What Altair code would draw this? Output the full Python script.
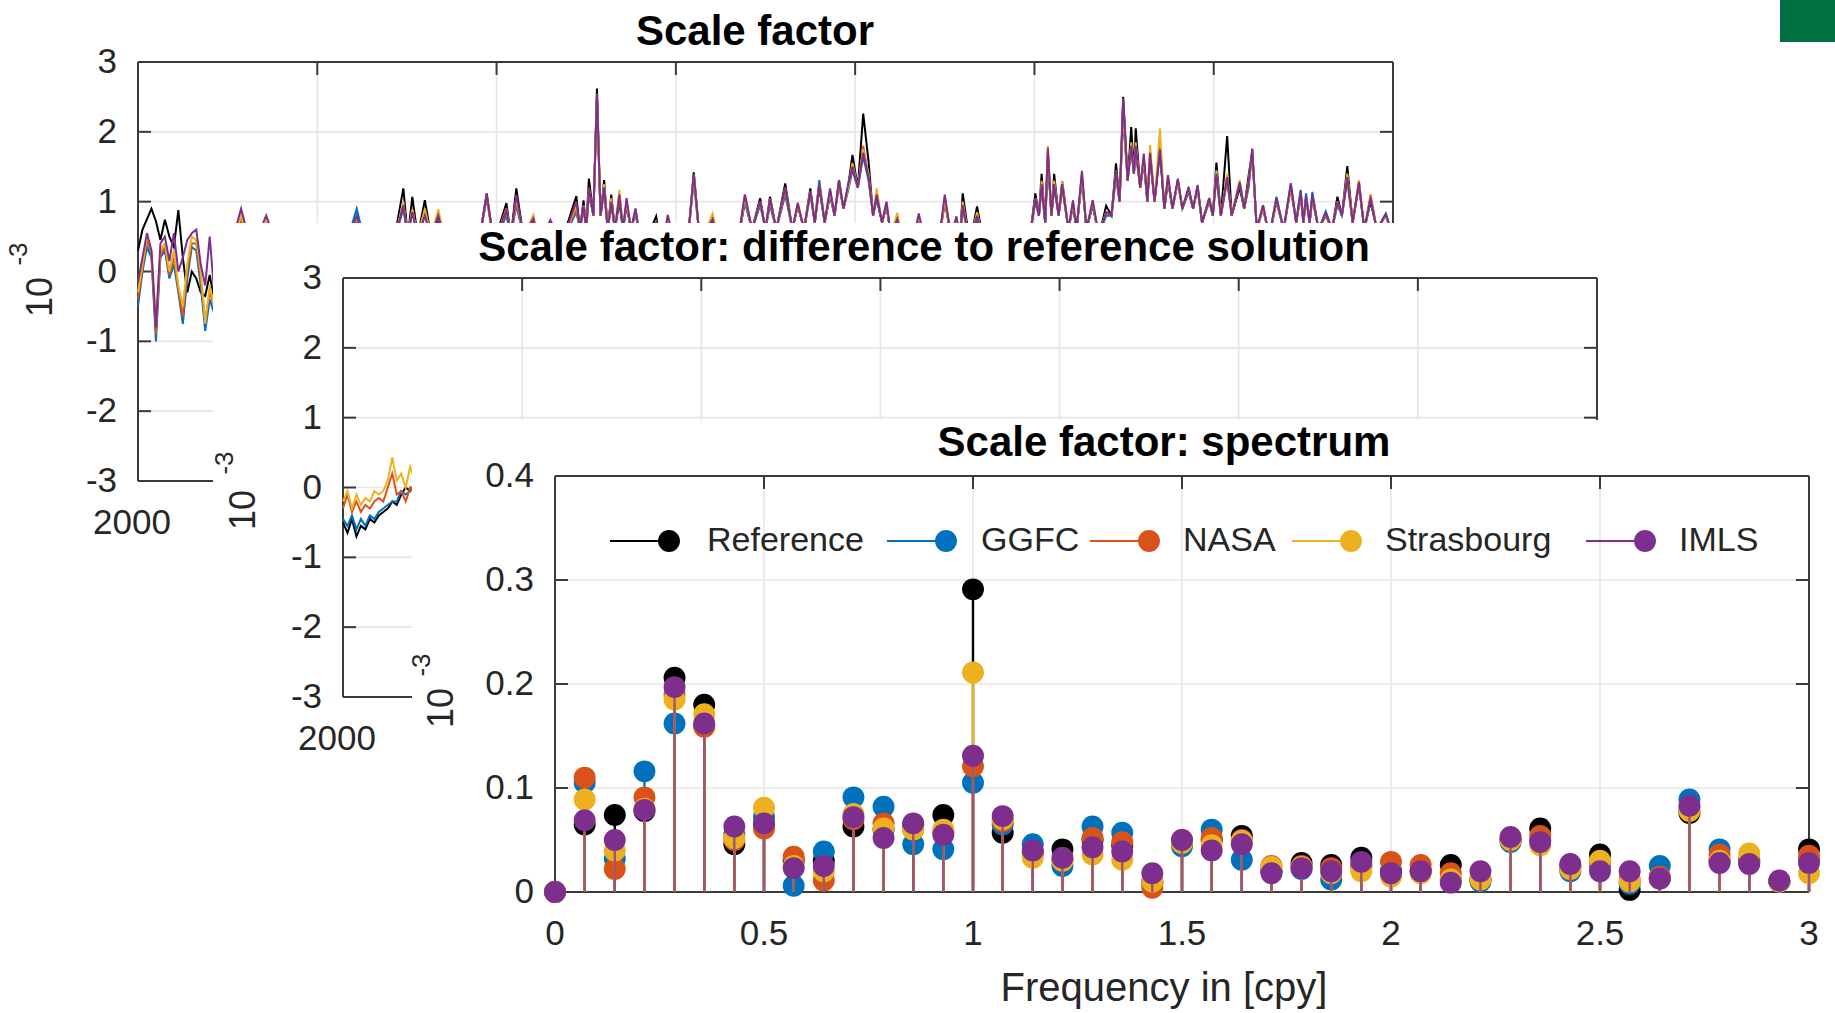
import altair as alt
import pandas as pd

# ------------------------------------------------------------------ data
SERIES = ["Reference", "GGFC", "NASA", "Strasbourg", "IMLS"]
COLORS = ["#000000", "#0072BD", "#D95319", "#EDB120", "#7E2F8E"]

# Panel 1: scale factor time series (10^-3)
t1 = (
    [2000.00, 2000.05, 2000.10, 2000.15, 2000.20, 2000.25, 2000.30, 2000.35, 2000.40,
     2000.45, 2000.50, 2000.55, 2000.60, 2000.65, 2000.70, 2000.75, 2000.80, 2000.85]
    + [2001.00, 2001.15, 2001.27, 2001.43, 2001.60, 2002.30, 2002.44, 2002.55, 2002.85,
       2002.96, 2003.01, 2003.06, 2003.12, 2003.20, 2003.27, 2003.35, 2003.45]
    + [2003.80, 2003.89, 2003.97, 2004.11, 2004.16, 2004.22, 2004.30, 2004.41, 2004.48,
       2004.60, 2004.72]
    + [2004.89, 2004.93, 2004.97, 2005.00, 2005.03, 2005.08, 2005.12, 2005.16, 2005.20,
       2005.24, 2005.28, 2005.32, 2005.37, 2005.41, 2005.45, 2005.50, 2005.55, 2005.62,
       2005.78, 2005.84, 2005.91, 2006.00]
    + [2006.13, 2006.20, 2006.27, 2006.41, 2006.50, 2006.70, 2006.77, 2006.85, 2006.94,
       2007.00, 2007.05, 2007.12, 2007.22, 2007.30, 2007.36, 2007.43, 2007.50, 2007.55,
       2007.60, 2007.66, 2007.72, 2007.77, 2007.82, 2007.87, 2007.92, 2007.97, 2008.03,
       2008.09, 2008.15, 2008.20, 2008.24, 2008.30, 2008.35, 2008.40, 2008.47, 2008.55]
    + [2008.64, 2008.71, 2008.80, 2008.93, 2009.00, 2009.07, 2009.13, 2009.17, 2009.20,
       2009.28, 2009.36, 2009.45]
    + [2009.95, 2010.01, 2010.05, 2010.08, 2010.12, 2010.15, 2010.19, 2010.22, 2010.27,
       2010.31, 2010.38, 2010.43, 2010.47, 2010.53, 2010.58, 2010.65, 2010.72, 2010.80,
       2010.86, 2010.91, 2010.95, 2010.99, 2011.04, 2011.08, 2011.11, 2011.13, 2011.18,
       2011.22, 2011.26, 2011.29, 2011.34, 2011.40, 2011.45, 2011.49, 2011.54, 2011.60,
       2011.65, 2011.72, 2011.77, 2011.82, 2011.87, 2011.95, 2011.99]
    + [2012.03, 2012.08, 2012.15, 2012.20, 2012.29, 2012.34, 2012.39, 2012.43, 2012.48,
       2012.55, 2012.62, 2012.70, 2012.78, 2012.86, 2012.92, 2012.97, 2013.00, 2013.03,
       2013.07, 2013.10, 2013.17, 2013.25, 2013.32, 2013.38, 2013.43, 2013.49, 2013.55,
       2013.62, 2013.68, 2013.75, 2013.82, 2013.92, 2014.00]
)

sf_ref = (
    [0.30, 0.60, 0.75, 0.90, 0.72, 0.45, 0.74, 0.50, 0.35, 0.88, 0.20, -0.30, 0.00, -0.10, -0.30, -0.35, -0.05, -0.40]
    + [0.20, 0.75, 0.30, 0.70, 0.20, 0.30, 0.75, 0.30, 0.40, 1.19, 0.50, 1.07, 0.50, 1.02, 0.50, 0.75, 0.30]
    + [0.40, 1.12, 0.40, 0.98, 0.50, 1.19, 0.50, 0.70, 0.40, 0.65, 0.40]
    + [1.08, 0.60, 1.02, 0.60, 1.33, 0.80, 2.62, 0.80, 1.31, 0.60, 1.10, 0.60, 1.00, 0.60, 0.95, 0.60, 0.85, 0.30, 0.79, 0.30, 0.70, 0.30]
    + [0.40, 1.42, 0.40, 0.70, 0.30, 0.50, 1.00, 0.60, 1.05, 0.60, 1.07, 0.60, 1.26, 0.60, 0.95, 0.60, 1.19, 0.70, 1.20, 0.70, 1.10, 0.80, 1.31, 0.90, 1.20, 1.67, 1.20, 2.26, 1.57, 0.80, 1.05, 0.70, 0.95, 0.50, 0.70, 0.30]
    + [0.40, 0.75, 0.30, 0.40, 1.00, 0.50, 0.75, 0.50, 1.12, 0.40, 0.93, 0.30]
    + [0.50, 1.12, 0.80, 1.40, 0.70, 1.60, 0.80, 1.40, 0.80, 1.29, 0.60, 0.95, 0.60, 1.35, 0.60, 0.95, 0.50, 0.94, 0.80, 1.55, 1.00, 2.50, 1.30, 2.07, 1.40, 2.05, 1.20, 1.60, 1.00, 1.70, 1.00, 1.75, 0.90, 1.30, 0.90, 1.30, 0.90, 1.15, 0.90, 1.20, 0.70, 1.05, 0.80]
    + [1.56, 0.80, 1.94, 0.80, 1.20, 0.90, 1.38, 1.70, 0.60, 0.90, 0.50, 1.00, 0.60, 1.20, 0.70, 1.10, 0.70, 1.05, 0.70, 1.05, 0.60, 0.80, 0.60, 1.07, 0.80, 1.51, 0.70, 1.25, 0.60, 1.00, 0.60, 0.80, 0.50]
)
sf_ggfc = (
    [-0.50, 0.00, 0.35, 0.20, -1.00, 0.20, 0.30, -0.10, 0.10, -0.30, -0.75, -0.10, 0.35, 0.30, -0.20, -0.85, -0.40, -0.60]
    + [0.20, 0.70, 0.30, 0.65, 0.20, 0.30, 0.90, 0.30, 0.40, 0.90, 0.50, 0.85, 0.50, 0.80, 0.50, 0.70, 0.30]
    + [0.40, 1.05, 0.40, 0.80, 0.50, 0.95, 0.50, 0.70, 0.40, 0.68, 0.40]
    + [0.85, 0.60, 0.90, 0.60, 1.10, 0.80, 2.50, 0.80, 1.15, 0.60, 0.95, 0.60, 1.05, 0.60, 0.95, 0.60, 0.85, 0.30, 0.65, 0.30, 0.70, 0.30]
    + [0.40, 1.30, 0.40, 0.72, 0.30, 0.50, 1.00, 0.60, 0.95, 0.60, 0.95, 0.60, 1.10, 0.60, 0.95, 0.60, 1.10, 0.70, 1.31, 0.70, 1.10, 0.80, 1.25, 0.90, 1.15, 1.45, 1.20, 1.65, 1.30, 0.80, 1.05, 0.70, 0.95, 0.50, 0.70, 0.30]
    + [0.40, 0.75, 0.30, 0.40, 1.05, 0.50, 0.70, 0.50, 0.90, 0.40, 0.75, 0.30]
    + [0.50, 1.00, 0.80, 1.20, 0.70, 1.65, 0.80, 1.20, 0.80, 1.20, 0.60, 0.95, 0.60, 1.35, 0.60, 0.95, 0.50, 0.80, 0.80, 1.35, 1.00, 2.20, 1.30, 1.75, 1.40, 1.70, 1.20, 1.55, 1.00, 1.60, 1.00, 1.70, 0.90, 1.30, 0.90, 1.28, 0.90, 1.15, 0.90, 1.20, 0.70, 1.00, 0.80]
    + [1.35, 0.80, 1.30, 0.80, 1.25, 0.90, 1.20, 1.75, 0.60, 0.95, 0.50, 1.07, 0.60, 1.26, 0.70, 1.17, 0.70, 1.12, 0.70, 1.14, 0.60, 0.86, 0.60, 0.95, 0.80, 1.30, 0.70, 1.25, 0.60, 1.05, 0.60, 0.83, 0.50]
)
sf_nasa = (
    [-0.40, 0.05, 0.45, 0.25, -0.90, 0.25, 0.35, -0.05, 0.20, -0.25, -0.65, 0.00, 0.40, 0.40, -0.10, -0.70, -0.30, -0.50]
    + [0.20, 0.75, 0.30, 0.70, 0.20, 0.30, 0.75, 0.30, 0.40, 0.95, 0.50, 0.90, 0.50, 0.85, 0.50, 0.80, 0.30]
    + [0.40, 1.08, 0.40, 0.85, 0.50, 1.00, 0.50, 0.75, 0.40, 0.70, 0.40]
    + [0.90, 0.60, 0.95, 0.60, 1.15, 0.80, 2.50, 0.80, 1.20, 0.60, 1.00, 0.60, 1.10, 0.60, 1.00, 0.60, 0.90, 0.30, 0.68, 0.30, 0.72, 0.30]
    + [0.40, 1.35, 0.40, 0.75, 0.30, 0.50, 1.10, 0.60, 1.00, 0.60, 1.00, 0.60, 1.15, 0.60, 0.95, 0.60, 1.15, 0.70, 1.25, 0.70, 1.15, 0.80, 1.25, 0.90, 1.20, 1.50, 1.20, 1.80, 1.35, 0.80, 1.10, 0.70, 0.95, 0.50, 0.75, 0.30]
    + [0.40, 0.78, 0.30, 0.40, 1.00, 0.50, 0.72, 0.50, 0.95, 0.40, 0.80, 0.30]
    + [0.50, 1.05, 0.80, 1.25, 0.70, 1.79, 0.80, 1.25, 0.80, 1.20, 0.60, 0.98, 0.60, 1.40, 0.60, 0.98, 0.50, 0.85, 0.80, 1.40, 1.00, 2.30, 1.30, 1.80, 1.40, 1.75, 1.20, 1.60, 1.00, 1.65, 1.00, 1.80, 0.90, 1.35, 0.90, 1.30, 0.90, 1.18, 0.90, 1.22, 0.70, 1.02, 0.80]
    + [1.40, 0.80, 1.35, 0.80, 1.28, 0.90, 1.25, 1.70, 0.60, 0.92, 0.50, 1.02, 0.60, 1.22, 0.70, 1.12, 0.70, 1.05, 0.70, 1.05, 0.60, 0.82, 0.60, 1.00, 0.80, 1.35, 0.70, 1.28, 0.60, 1.10, 0.60, 0.80, 0.50]
)
sf_stras = (
    [-0.30, 0.10, 0.50, 0.30, -0.70, 0.30, 0.40, 0.00, 0.30, -0.20, -0.50, 0.10, 0.50, 0.45, 0.00, -0.75, -0.20, -0.50]
    + [0.20, 0.80, 0.30, 0.72, 0.20, 0.30, 0.78, 0.30, 0.40, 1.00, 0.50, 0.88, 0.50, 0.90, 0.50, 0.89, 0.30]
    + [0.40, 1.10, 0.40, 0.90, 0.50, 1.05, 0.50, 0.81, 0.40, 0.70, 0.40]
    + [0.95, 0.60, 0.95, 0.60, 1.20, 0.80, 2.52, 0.80, 1.25, 0.60, 1.05, 0.60, 1.17, 0.60, 1.00, 0.60, 0.90, 0.30, 0.70, 0.30, 0.75, 0.30]
    + [0.40, 1.38, 0.40, 0.83, 0.30, 0.50, 1.05, 0.60, 1.00, 0.60, 1.05, 0.60, 1.20, 0.60, 0.98, 0.60, 1.15, 0.70, 1.25, 0.70, 1.15, 0.80, 1.30, 0.90, 1.20, 1.55, 1.20, 1.75, 1.40, 0.80, 1.19, 0.70, 1.00, 0.50, 0.84, 0.30]
    + [0.40, 0.80, 0.30, 0.40, 1.05, 0.50, 0.75, 0.50, 1.00, 0.40, 0.85, 0.30]
    + [0.50, 1.05, 0.80, 1.30, 0.70, 1.70, 0.80, 1.30, 0.80, 1.29, 0.60, 1.00, 0.60, 1.40, 0.60, 1.00, 0.50, 0.85, 0.80, 1.45, 1.00, 2.35, 1.30, 1.85, 1.40, 1.85, 1.20, 1.65, 1.00, 1.81, 1.00, 2.05, 0.90, 1.35, 0.90, 1.30, 0.90, 1.20, 0.90, 1.22, 0.70, 1.05, 0.80]
    + [1.45, 0.80, 1.40, 0.80, 1.31, 0.90, 1.30, 1.72, 0.60, 0.92, 0.50, 1.02, 0.60, 1.22, 0.70, 1.12, 0.70, 1.05, 0.70, 1.08, 0.60, 0.82, 0.60, 1.00, 0.80, 1.40, 0.70, 1.31, 0.60, 1.05, 0.60, 0.80, 0.50]
)
sf_imls = (
    [-0.15, 0.20, 0.55, 0.30, -0.80, 0.40, 0.50, 0.15, 0.55, 0.00, 0.20, 0.45, 0.55, 0.60, 0.10, -0.20, 0.50, -0.30]
    + [0.20, 0.90, 0.30, 0.80, 0.20, 0.30, 0.80, 0.30, 0.40, 0.95, 0.50, 0.85, 0.50, 0.80, 0.50, 0.80, 0.30]
    + [0.40, 1.11, 0.40, 0.88, 0.50, 1.10, 0.50, 0.76, 0.40, 0.74, 0.40]
    + [1.00, 0.60, 0.95, 0.60, 1.20, 0.80, 2.55, 0.80, 1.20, 0.60, 1.00, 0.60, 1.10, 0.60, 1.05, 0.60, 0.90, 0.30, 0.70, 0.30, 0.81, 0.30]
    + [0.40, 1.40, 0.40, 0.75, 0.30, 0.50, 1.10, 0.60, 1.00, 0.60, 1.05, 0.60, 1.20, 0.60, 0.98, 0.60, 1.15, 0.70, 1.25, 0.70, 1.19, 0.80, 1.30, 0.90, 1.24, 1.50, 1.20, 1.70, 1.35, 0.80, 1.10, 0.70, 1.00, 0.50, 0.75, 0.30]
    + [0.40, 0.83, 0.30, 0.40, 1.10, 0.50, 0.79, 0.50, 0.95, 0.40, 0.80, 0.30]
    + [0.50, 1.05, 0.80, 1.25, 0.70, 1.75, 0.80, 1.25, 0.80, 1.25, 0.60, 1.02, 0.60, 1.44, 0.60, 1.02, 0.50, 0.85, 0.80, 1.45, 1.00, 2.48, 1.30, 1.80, 1.40, 1.80, 1.20, 1.69, 1.00, 1.70, 1.00, 1.75, 0.90, 1.38, 0.90, 1.33, 0.90, 1.21, 0.90, 1.24, 0.70, 1.05, 0.80]
    + [1.40, 0.80, 1.35, 0.80, 1.28, 0.90, 1.28, 1.76, 0.60, 0.95, 0.50, 1.05, 0.60, 1.26, 0.70, 1.15, 0.70, 1.08, 0.70, 1.10, 0.60, 0.84, 0.60, 1.00, 0.80, 1.35, 0.70, 1.28, 0.60, 1.05, 0.60, 0.82, 0.50]
)

# Panel 2: difference to reference solution (10^-3), visible start only
t2 = [2000.00, 2000.05, 2000.10, 2000.15, 2000.20, 2000.25, 2000.30, 2000.35, 2000.40, 2000.45,
      2000.50, 2000.55, 2000.60, 2000.65, 2000.70, 2000.75, 2000.80, 2000.85, 2000.90, 2000.95, 2001.00]
d_ref = [-0.50, -0.65, -0.45, -0.70, -0.55, -0.60, -0.45, -0.50, -0.40, -0.35, -0.30, -0.20, -0.25, -0.10, 0.00, -0.05, 0.05, 0.00, -0.10, 0.00, 0.05]
d_ggfc = [-0.45, -0.55, -0.40, -0.60, -0.45, -0.55, -0.40, -0.45, -0.35, -0.30, -0.25, -0.20, -0.20, -0.05, -0.10, -0.05, 0.00, 0.05, -0.05, 0.00, 0.00]
d_nasa = [-0.30, -0.10, -0.35, -0.20, -0.35, -0.25, -0.30, -0.20, -0.15, -0.20, 0.00, 0.20, -0.10, -0.05, -0.20, 0.00, -0.10, 0.05, 0.00, 0.05, 0.00]
d_stras = [-0.20, -0.05, -0.30, -0.10, -0.25, -0.15, -0.20, -0.05, -0.10, -0.05, 0.10, 0.43, 0.10, 0.20, 0.00, 0.30, 0.10, 0.20, 0.10, 0.15, 0.10]

# Panel 3: spectrum (amplitude, 10^-3) at frequencies in cpy
freq = [0.000, 0.071, 0.143, 0.214, 0.286, 0.357, 0.429, 0.500, 0.571, 0.643, 0.714,
        0.786, 0.857, 0.929, 1.000, 1.071, 1.143, 1.214, 1.286, 1.357, 1.429, 1.500,
        1.571, 1.643, 1.714, 1.786, 1.857, 1.929, 2.000, 2.071, 2.143, 2.214, 2.286,
        2.357, 2.429, 2.500, 2.571, 2.643, 2.714, 2.786, 2.857, 2.929, 3.000]
sp_ref = [0, 0.065, 0.074, 0.078, 0.206, 0.180, 0.046, 0.065, 0.030, 0.030, 0.063, 0.060, 0.065, 0.074, 0.291,
          0.057, 0.038, 0.041, 0.050, 0.045, 0.010, 0.048, 0.050, 0.054, 0.020, 0.028, 0.026, 0.033, 0.020,
          0.020, 0.026, 0.012, 0.050, 0.061, 0.025, 0.036, 0.002, 0.013, 0.076, 0.030, 0.030, 0.010, 0.041]
sp_ggfc = [0, 0.105, 0.032, 0.116, 0.162, 0.160, 0.055, 0.072, 0.006, 0.039, 0.091, 0.082, 0.046, 0.041, 0.105,
           0.065, 0.046, 0.025, 0.063, 0.057, 0.008, 0.044, 0.060, 0.031, 0.020, 0.022, 0.012, 0.025, 0.020,
           0.020, 0.012, 0.010, 0.048, 0.050, 0.020, 0.025, 0.008, 0.025, 0.089, 0.041, 0.028, 0.010, 0.030]
sp_nasa = [0, 0.110, 0.022, 0.091, 0.190, 0.159, 0.050, 0.061, 0.034, 0.011, 0.070, 0.066, 0.060, 0.058, 0.121,
           0.068, 0.038, 0.030, 0.052, 0.048, 0.004, 0.050, 0.052, 0.050, 0.025, 0.025, 0.023, 0.025, 0.029,
           0.026, 0.018, 0.012, 0.050, 0.054, 0.022, 0.028, 0.012, 0.015, 0.080, 0.036, 0.030, 0.010, 0.035]
sp_stras = [0, 0.089, 0.040, 0.080, 0.185, 0.171, 0.052, 0.081, 0.025, 0.020, 0.075, 0.061, 0.060, 0.060, 0.211,
            0.070, 0.033, 0.030, 0.036, 0.031, 0.010, 0.047, 0.045, 0.049, 0.024, 0.024, 0.018, 0.020, 0.015,
            0.018, 0.012, 0.012, 0.050, 0.045, 0.022, 0.030, 0.010, 0.013, 0.078, 0.030, 0.037, 0.010, 0.018]
sp_imls = [0, 0.069, 0.050, 0.079, 0.197, 0.162, 0.063, 0.066, 0.023, 0.025, 0.072, 0.052, 0.066, 0.055, 0.131,
           0.073, 0.040, 0.033, 0.043, 0.039, 0.018, 0.050, 0.040, 0.046, 0.018, 0.023, 0.020, 0.029, 0.018,
           0.020, 0.009, 0.020, 0.053, 0.048, 0.027, 0.020, 0.020, 0.013, 0.083, 0.028, 0.027, 0.011, 0.028]

# Tick values and labels
year_ticks = [2000, 2002, 2004, 2006, 2008, 2010, 2012, 2014]
year_labels = ["2000"]          # the only year label not covered by the figures in front
sf_ticks = [-3, -2, -1, 0, 1, 2, 3]
sf_labels = ["-3", "-2", "-1", "0", "1", "2", "3"]
freq_ticks = [0, 0.5, 1, 1.5, 2, 2.5, 3]
freq_labels = ["0", "0.5", "1", "1.5", "2", "2.5", "3"]
amp_ticks = [0, 0.1, 0.2, 0.3, 0.4]
amp_labels = ["0", "0.1", "0.2", "0.3", "0.4"]

for s in (sf_ref, sf_ggfc, sf_nasa, sf_stras, sf_imls):
    assert len(s) == len(t1), (len(s), len(t1))
for s in (sp_ref, sp_ggfc, sp_nasa, sp_stras, sp_imls):
    assert len(s) == len(freq)

# ------------------------------------------------------------------ layout
W, H = 1835, 1013
FONT = "Liberation Sans"
AX = "#3a3a3a"
TXT = "#262626"
GRID = "#e6e6e6"
ONE = pd.DataFrame({"a": [0]})
TL = 13  # tick length

P1 = dict(x0=138, x1=1393, yt=62, yb=481, xdom=[2000, 2014], ydom=[-3, 3])
P2 = dict(x0=343, x1=1597, yt=278, yb=697, xdom=[2000, 2014], ydom=[-3, 3])
P3 = dict(x0=555, x1=1809, yt=476, yb=892, xdom=[0, 3], ydom=[0, 0.4])


def scx(p):
    return alt.Scale(domain=p["xdom"], range=[p["x0"], p["x1"]], nice=False, zero=False)


def scy(p):
    return alt.Scale(domain=p["ydom"], range=[p["yb"], p["yt"]], nice=False, zero=False)


def X(p, f="v"):
    return alt.X(f"{f}:Q", scale=scx(p), axis=None)


def Y(p, f="v"):
    return alt.Y(f"{f}:Q", scale=scy(p), axis=None)


def rect(x, x2, y, y2, color):
    return alt.Chart(ONE).mark_rect(color=color).encode(
        x=alt.value(x), x2=alt.value(x2), y=alt.value(y), y2=alt.value(y2))


def frame_back(p, xt, yt):
    xdf = pd.DataFrame({"v": xt})
    ydf = pd.DataFrame({"v": yt})
    L = []
    L.append(alt.Chart(xdf).mark_rule(color=GRID, strokeWidth=1.6).encode(
        x=X(p), y=alt.value(p["yt"]), y2=alt.value(p["yb"])))
    L.append(alt.Chart(ydf).mark_rule(color=GRID, strokeWidth=1.6).encode(
        y=Y(p), x=alt.value(p["x0"]), x2=alt.value(p["x1"])))
    box = alt.Chart(ONE).mark_rule(color=AX, strokeWidth=2)
    L.append(box.encode(x=alt.value(p["x0"]), x2=alt.value(p["x1"]), y=alt.value(p["yt"])))
    L.append(box.encode(x=alt.value(p["x0"]), x2=alt.value(p["x1"]), y=alt.value(p["yb"])))
    L.append(box.encode(x=alt.value(p["x0"]), y=alt.value(p["yt"]), y2=alt.value(p["yb"])))
    L.append(box.encode(x=alt.value(p["x1"]), y=alt.value(p["yt"]), y2=alt.value(p["yb"])))
    tk = lambda d: alt.Chart(d).mark_rule(color=AX, strokeWidth=2)
    L.append(tk(ydf).encode(y=Y(p), x=alt.value(p["x0"]), x2=alt.value(p["x0"] + TL)))
    L.append(tk(ydf).encode(y=Y(p), x=alt.value(p["x1"] - TL), x2=alt.value(p["x1"])))
    L.append(tk(xdf).encode(x=X(p), y=alt.value(p["yb"] - TL), y2=alt.value(p["yb"])))
    L.append(tk(xdf).encode(x=X(p), y=alt.value(p["yt"]), y2=alt.value(p["yt"] + TL)))
    return L


def frame_labels(p, xt, xl, yt, yl, xdx=0):
    xdf = pd.DataFrame({"v": xt[:len(xl)], "lab": xl})
    ydf = pd.DataFrame({"v": yt, "lab": yl})
    return [
        alt.Chart(ydf).mark_text(font=FONT, fontSize=35, align="right", baseline="middle", color=TXT).encode(
            y=Y(p), x=alt.value(p["x0"] - 21), text="lab:N"),
        alt.Chart(xdf).mark_text(font=FONT, fontSize=35, align="center", baseline="middle", color=TXT, dx=xdx).encode(
            x=X(p), y=alt.value(p["yb"] + 42), text="lab:N"),
    ]


def text(s, x, y, size, bold=False, angle=0, align="center", baseline="middle"):
    kw = dict(text=s, font=FONT, fontSize=size, color="#000000" if bold else TXT,
              align=align, baseline=baseline, fontWeight="bold" if bold else "normal")
    if angle:
        kw["angle"] = angle
    return alt.Chart(ONE).mark_text(**kw).encode(x=alt.value(x), y=alt.value(y))


def exp_label(cx, cy, sx, sy):
    return [text("10", cx, cy, 36, angle=270), text("-3", sx, sy, 26, angle=270)]


layers = []

# ---------------- figure 1: Scale factor
layers += frame_back(P1, year_ticks, sf_ticks)
for name, col, vals in zip(SERIES, COLORS, [sf_ref, sf_ggfc, sf_nasa, sf_stras, sf_imls]):
    df = pd.DataFrame({"t": t1, "v": vals})
    layers.append(alt.Chart(df).mark_line(color=col, strokeWidth=2).encode(x=X(P1, "t"), y=Y(P1)))
layers += frame_labels(P1, year_ticks, year_labels, sf_ticks, sf_labels, xdx=-6)
layers.append(text("Scale factor", 755, 45, 42, bold=True, baseline="alphabetic"))
layers += exp_label(41, 297, 19, 254)

# ---------------- figure 2: difference to reference
layers.append(rect(213, W, 223, H, "#ffffff"))
layers += frame_back(P2, year_ticks, sf_ticks)
for name, col, vals in zip(SERIES[:4], COLORS[:4], [d_ref, d_ggfc, d_nasa, d_stras]):
    df = pd.DataFrame({"t": t2, "v": vals})
    layers.append(alt.Chart(df).mark_line(color=col, strokeWidth=2).encode(x=X(P2, "t"), y=Y(P2)))
layers += frame_labels(P2, year_ticks, year_labels, sf_ticks, sf_labels, xdx=-6)
layers.append(text("Scale factor: difference to reference solution", 924, 261, 42, bold=True, baseline="alphabetic"))
layers += exp_label(244, 510, 225, 463)

# ---------------- figure 3: spectrum
layers.append(rect(412, W, 420, H, "#ffffff"))
layers += frame_back(P3, freq_ticks, amp_ticks)
for i, (name, col, vals) in enumerate(zip(SERIES, COLORS, [sp_ref, sp_ggfc, sp_nasa, sp_stras, sp_imls])):
    df = pd.DataFrame({"f": freq, "v": vals, "b": [0.0] * len(freq)})
    op = 0.7 if name == "IMLS" else 1.0
    layers.append(alt.Chart(df).mark_rule(color=col, strokeWidth=2.4, opacity=op).encode(
        x=X(P3, "f"), y=Y(P3), y2=alt.Y2("b:Q")))
    layers.append(alt.Chart(df).mark_circle(color=col, size=480, opacity=1).encode(
        x=X(P3, "f"), y=Y(P3)))

# legend (inside the plot, no box)
LEG_Y = 541
LEG_MARK_X = [669, 946, 1149, 1351, 1645]
LEG_TEXT_X = [707, 981, 1183, 1385, 1679]
for name, col, mx, tx in zip(SERIES, COLORS, LEG_MARK_X, LEG_TEXT_X):
    layers.append(alt.Chart(ONE).mark_rule(color=col, strokeWidth=2).encode(
        x=alt.value(mx - 59), x2=alt.value(mx), y=alt.value(LEG_Y)))
    layers.append(alt.Chart(ONE).mark_circle(color=col, size=480, opacity=1).encode(
        x=alt.value(mx), y=alt.value(LEG_Y)))
    layers.append(text(name, tx, LEG_Y, 34, align="left"))

layers += frame_labels(P3, freq_ticks, freq_labels, amp_ticks, amp_labels)
layers.append(text("Scale factor: spectrum", 1164, 456, 42, bold=True, baseline="alphabetic"))
layers.append(text("Frequency in [cpy]", 1164, 989, 40))
layers += exp_label(442, 708, 422, 665)

# green badge top right
layers.append(rect(1780, W, 0, 42, "#006f41"))

chart = (
    alt.layer(*layers)
    .resolve_scale(x="independent", y="independent")
    .properties(width=W, height=H, padding=0, autosize=alt.AutoSizeParams(type="none"),
                background="#ffffff")
    .configure_view(strokeWidth=0)
)

chart.save("out.html", embed_options={"renderer": "svg", "actions": False})
